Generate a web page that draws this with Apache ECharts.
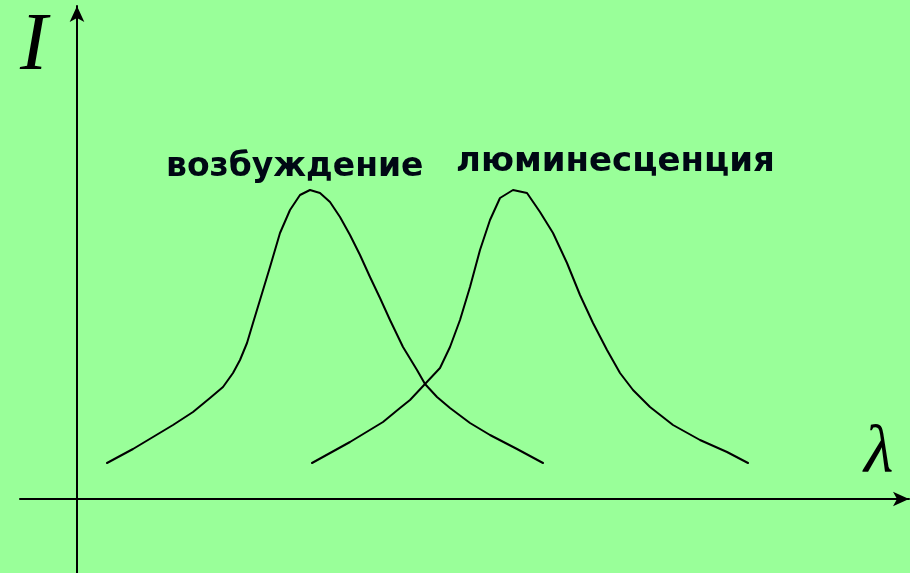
<!DOCTYPE html>
<html>
<head>
<meta charset="utf-8">
<script src="https://cdn.jsdelivr.net/npm/echarts@6/dist/echarts.min.js"></script>
<style>html,body{margin:0;padding:0;background:#99FF99;}#c{width:910px;height:573px;}</style>
</head>
<body>
<div id="c"></div>
<script>
// Wavelength (arbitrary units) and intensity (arbitrary units)
var excitationX = [30, 56, 76, 96, 116, 133, 146, 156, 163, 170, 176, 183, 193, 203, 213, 223, 233, 243, 253, 263, 273, 283, 293, 303, 313, 326, 340, 348, 360, 373, 393, 413, 440, 466];
var excitationY = [36, 50, 62, 74, 87, 101, 112, 126, 139, 156, 176, 199, 232, 266, 289, 304, 309, 306, 297, 282, 264, 244, 222, 201, 179, 152, 129, 115, 102, 91, 76, 64, 50, 36];
var luminescenceX = [235, 273, 306, 323, 333, 348, 363, 373, 383, 393, 403, 413, 423, 436, 450, 463, 476, 490, 503, 516, 530, 543, 556, 573, 596, 623, 650, 671];
var luminescenceY = [36, 57, 77, 91, 99, 115, 131, 152, 179, 212, 249, 279, 301, 309, 306, 287, 266, 236, 204, 176, 149, 126, 109, 92, 74, 59, 47, 36];
var labelExcitation = 'возбуждение';
var labelLuminescence = 'люминесценция';
var axisNameI = 'I';
var axisNameLambda = 'λ';

function pairs(xs, ys) { return xs.map(function (x, i) { return [x, ys[i]]; }); }

var chart = echarts.init(document.getElementById('c'));
chart.setOption({
  backgroundColor: '#99FF99',
  animation: false,
  grid: { left: 20, right: 1, top: 6, bottom: 0 },
  xAxis: {
    type: 'value', min: -57, max: 832,
    axisLine: { onZero: true, symbol: ['none', 'arrow'], symbolSize: [11, 16], lineStyle: { color: '#000', width: 2 } },
    axisTick: { show: false }, axisLabel: { show: false }, splitLine: { show: false }
  },
  yAxis: {
    type: 'value', min: -74, max: 493,
    axisLine: { onZero: true, symbol: ['none', 'arrow'], symbolSize: [11, 16], lineStyle: { color: '#000', width: 2 } },
    axisTick: { show: false }, axisLabel: { show: false }, splitLine: { show: false }
  },
  series: [
    { type: 'line', data: pairs(excitationX, excitationY), smooth: false, showSymbol: false,
      lineStyle: { color: '#000', width: 2, join: 'round', cap: 'round' } },
    { type: 'line', data: pairs(luminescenceX, luminescenceY), smooth: false, showSymbol: false,
      lineStyle: { color: '#000', width: 2, join: 'round', cap: 'round' } }
  ],
  graphic: [
    { type: 'text', left: 166, top: 151, style: { text: labelExcitation, font: 'bold 33px "DejaVu Sans"', fill: '#000814' } },
    { type: 'text', left: 456, top: 145, style: { text: labelLuminescence, font: 'bold 34px "DejaVu Sans"', fill: '#000814' } },
    { type: 'text', left: 20, top: 6, style: { text: axisNameI, font: 'italic 82px "Liberation Serif"', fill: '#000' } },
    { type: 'text', left: 864, top: 420, style: { text: axisNameLambda, font: 'italic 68px "Liberation Serif"', fill: '#000' } }
  ]
});
</script>
</body>
</html>
